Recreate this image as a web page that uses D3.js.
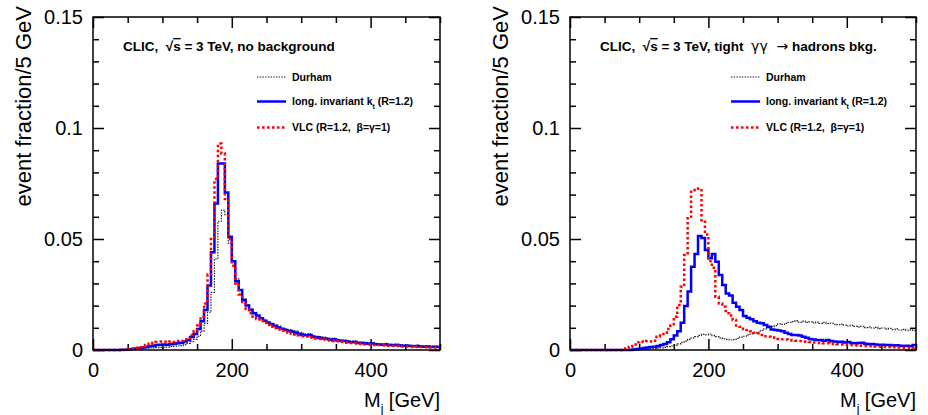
<!DOCTYPE html>
<html>
<head>
<meta charset="utf-8">
<script src="https://cdn.jsdelivr.net/npm/d3@7"></script>
<style>
  body { margin: 0; background: #fff; }
  svg { font-family: "Liberation Sans", Arial, sans-serif; }
  svg text { white-space: pre; }
  .axis text { font-size: 20px; fill: #000; }
  .axis line { stroke: #000; stroke-width: 1.5; }
</style>
</head>
<body>
<svg id="chart" width="928" height="415"></svg>
<script>
// bin lower edges, 5 GeV bins from 0 to 500
const binLow = d3.range(0, 500, 5);

const yMajor = [0, 0.05, 0.1, 0.15];
const xMajor = [0, 200, 400];

// left panel: no background
const leftDurham = [
  0, 0, 0, 0, 0, 0, 0, 0, 0, 0,
  0.0002, 0.0003, 0.0004, 0.0005, 0.0006, 0.0008, 0.0009, 0.001, 0.0011, 0.0012,
  0.0012, 0.0013, 0.0015, 0.0016, 0.0018, 0.002, 0.0024, 0.003, 0.0038, 0.0048,
  0.0062, 0.0085, 0.012, 0.017, 0.026, 0.041, 0.058, 0.063, 0.061, 0.048,
  0.040, 0.032, 0.027, 0.023, 0.0205, 0.0185, 0.017, 0.0155, 0.0145, 0.0135,
  0.0128, 0.012, 0.0113, 0.0108, 0.010, 0.0095, 0.0092, 0.0088, 0.0085, 0.008,
  0.0075, 0.0072, 0.0074, 0.0065, 0.0062, 0.006, 0.0058, 0.0055, 0.0052, 0.0054,
  0.0048, 0.0046, 0.0045, 0.0042, 0.004, 0.0041, 0.0037, 0.0036, 0.0035, 0.0032,
  0.0034, 0.003, 0.0029, 0.0028, 0.003, 0.0026, 0.0025, 0.0027, 0.0024, 0.0022,
  0.0023, 0.0021, 0.002, 0.0022, 0.0019, 0.0018, 0.002, 0.0017, 0.0018, 0.0016
];
const leftKt = [
  0, 0, 0, 0, 0, 0, 0, 0, 0.0001, 0.0001,
  0.0003, 0.0005, 0.0007, 0.0009, 0.0011, 0.0014, 0.0017, 0.0019, 0.0022, 0.0024,
  0.0025, 0.0024, 0.0026, 0.0028, 0.003, 0.0033, 0.0038, 0.0045, 0.0058, 0.0072,
  0.0095, 0.013, 0.018, 0.029, 0.044, 0.066, 0.084, 0.084, 0.071, 0.051,
  0.040, 0.031, 0.027, 0.0225, 0.020, 0.018, 0.0165, 0.0155, 0.0143, 0.0132,
  0.0123, 0.0116, 0.0108, 0.0101, 0.0095, 0.009, 0.0086, 0.0082, 0.0078, 0.0072,
  0.0068, 0.0066, 0.0068, 0.006, 0.0057, 0.0054, 0.0052, 0.005, 0.0046, 0.0048,
  0.0043, 0.0041, 0.004, 0.0037, 0.0035, 0.0036, 0.0032, 0.0031, 0.003, 0.0028,
  0.0029, 0.0026, 0.0025, 0.0024, 0.0025, 0.0022, 0.0021, 0.0022, 0.002, 0.0019,
  0.0019, 0.0018, 0.0017, 0.0018, 0.0016, 0.0015, 0.0016, 0.0014, 0.0015, 0.0014
];
const leftVlc = [
  0, 0, 0, 0, 0, 0, 0, 0, 0, 0,
  0.0004, 0.0007, 0.001, 0.0014, 0.0018, 0.0022, 0.0028, 0.0032, 0.0036, 0.0038,
  0.0037, 0.0035, 0.0038, 0.0036, 0.004, 0.0042, 0.0048, 0.0055, 0.0068, 0.0085,
  0.011, 0.015, 0.021, 0.034, 0.05, 0.077, 0.093, 0.0885, 0.068, 0.05,
  0.038, 0.03, 0.025, 0.021, 0.0185, 0.0165, 0.015, 0.014, 0.013, 0.0122,
  0.0113, 0.0105, 0.0098, 0.0092, 0.0087, 0.0082, 0.0078, 0.0074, 0.007, 0.0066,
  0.0062, 0.006, 0.0056, 0.0055, 0.0052, 0.005, 0.0047, 0.0045, 0.0043, 0.0041,
  0.0039, 0.0037, 0.0036, 0.0033, 0.0032, 0.003, 0.0029, 0.0027, 0.0026, 0.0025,
  0.0024, 0.0023, 0.0022, 0.0021, 0.002, 0.0019, 0.0018, 0.0019, 0.0017, 0.0016,
  0.0016, 0.0015, 0.0014, 0.0015, 0.0013, 0.0012, 0.0013, 0.0012, 0.0011, 0.0011
];

// right panel: tight gamma gamma -> hadrons background
const rightDurham = [
  0, 0, 0, 0, 0, 0, 0, 0, 0, 0,
  0, 0, 0, 0, 0, 0, 0, 0, 0, 0,
  0.0002, 0.0003, 0.0004, 0.0005, 0.0006, 0.0008, 0.001, 0.0012, 0.0015, 0.0018,
  0.0022, 0.0028, 0.0034, 0.004, 0.0048, 0.0055, 0.006, 0.0066, 0.007, 0.0068,
  0.0072, 0.0065, 0.006, 0.0055, 0.005, 0.0048, 0.0045, 0.0047, 0.0052, 0.0058,
  0.0062, 0.0068, 0.0072, 0.0075, 0.008, 0.0088, 0.0095, 0.01, 0.0105, 0.011,
  0.0118, 0.0115, 0.012, 0.0125, 0.0128, 0.0132, 0.0126, 0.013, 0.0124, 0.0127,
  0.0122, 0.0126, 0.012, 0.0124, 0.0119, 0.0121, 0.0116, 0.0114, 0.0117, 0.0112,
  0.0108, 0.0111, 0.0106, 0.0103, 0.0107, 0.0101, 0.0104, 0.0099, 0.0102, 0.0096,
  0.0099, 0.0094, 0.0097, 0.0092, 0.0095, 0.009, 0.0093, 0.0089, 0.0091, 0.0088
];
const rightKt = [
  0, 0, 0, 0, 0, 0, 0, 0, 0, 0,
  0, 0, 0, 0, 0, 0, 0, 0, 0.0002, 0.0004,
  0.0006, 0.0009, 0.0011, 0.0013, 0.0015, 0.0018, 0.0022, 0.0027, 0.0035, 0.0048,
  0.0065, 0.0085, 0.0123, 0.0198, 0.0263, 0.0375, 0.0432, 0.0513, 0.0505, 0.045,
  0.0413, 0.0432, 0.0398, 0.0338, 0.0293, 0.0255, 0.0245, 0.0213, 0.0195, 0.018,
  0.0153, 0.0145, 0.0138, 0.013, 0.0123, 0.012, 0.0113, 0.0105, 0.0092, 0.009,
  0.0088, 0.0085, 0.0078, 0.0072, 0.0068, 0.0068, 0.0065, 0.006, 0.0055, 0.005,
  0.0047, 0.0045, 0.0045, 0.0042, 0.0045, 0.004, 0.0038, 0.0036, 0.0037, 0.0034,
  0.0036, 0.0032, 0.003, 0.0031, 0.0033, 0.0028, 0.0026, 0.0027, 0.0025, 0.0023,
  0.0024, 0.0022, 0.0023, 0.002, 0.0021, 0.0019, 0.0018, 0.0019, 0.0017, 0.0022
];
const rightVlc = [
  0, 0, 0, 0, 0, 0, 0, 0, 0, 0,
  0, 0, 0, 0, 0, 0.0003, 0.0008, 0.0015, 0.0025, 0.0035,
  0.0038, 0.0036, 0.004, 0.0038, 0.0042, 0.006, 0.0072, 0.0078, 0.0095, 0.011,
  0.015, 0.0203, 0.0285, 0.0428, 0.060, 0.072, 0.0727, 0.072, 0.0585, 0.052,
  0.040, 0.037, 0.024, 0.021, 0.0195, 0.0166, 0.0155, 0.0135, 0.011, 0.0105,
  0.0095, 0.009, 0.0085, 0.0078, 0.0075, 0.0068, 0.0062, 0.006, 0.0056, 0.0055,
  0.005, 0.0048, 0.0047, 0.0045, 0.0043, 0.0042, 0.004, 0.0038, 0.0037, 0.0036,
  0.0034, 0.0033, 0.0032, 0.003, 0.003, 0.0028, 0.0027, 0.0026, 0.0025, 0.0024,
  0.0023, 0.0022, 0.0021, 0.002, 0.0019, 0.0018, 0.0018, 0.0017, 0.0016, 0.0015,
  0.0015, 0.0014, 0.0013, 0.0012, 0.0012, 0.0011, 0.001, 0.001, 0.0009, 0.0008
];

const svg = d3.select('#chart');

const plotTop = 17, plotBottom = 350;

const styles = {
  durham: { color: '#222', width: 1.2, dash: '1.5,1.2' },
  kt: { color: '#0000ff', width: 2.5, dash: null },
  vlc: { color: '#ff0000', width: 2.5, dash: '2.5,2.5' }
};

// Function to draw one panel
function drawPanel(x0, x1, series, titleParts, legendX) {
  const x = d3.scaleLinear().domain([0, 500]).range([x0, x1]);
  const y = d3.scaleLinear().domain([0, 0.15]).range([plotBottom, plotTop]);

  const g = svg.append('g');

  // minor ticks on all four sides
  const xMinor = d3.range(0, 501, 50).filter(v => v % 200 !== 0);
  const yMinor = d3.range(0, 16).map(v => v / 100).filter(v => Math.round(v * 100) % 5 !== 0);

  g.append('g').attr('class', 'axis').attr('transform', `translate(0,${plotBottom})`)
    .call(d3.axisBottom(x).tickValues(xMinor).tickSize(-6).tickFormat(''));
  g.append('g').attr('class', 'axis').attr('transform', `translate(0,${plotTop})`)
    .call(d3.axisTop(x).tickValues(xMinor).tickSize(-6).tickFormat(''));
  g.append('g').attr('class', 'axis').attr('transform', `translate(${x0},0)`)
    .call(d3.axisLeft(y).tickValues(yMinor).tickSize(-6).tickFormat(''));
  g.append('g').attr('class', 'axis').attr('transform', `translate(${x1},0)`)
    .call(d3.axisRight(y).tickValues(yMinor).tickSize(-6).tickFormat(''));

  // major ticks and labels
  g.append('g').attr('class', 'axis').attr('transform', `translate(0,${plotBottom})`)
    .call(d3.axisBottom(x).tickValues(xMajor).tickSize(-11).tickPadding(13).tickFormat(d3.format('d')));
  g.append('g').attr('class', 'axis').attr('transform', `translate(0,${plotTop})`)
    .call(d3.axisTop(x).tickValues(xMajor).tickSize(-11).tickFormat(''));
  g.append('g').attr('class', 'axis').attr('transform', `translate(${x0},0)`)
    .call(d3.axisLeft(y).tickValues(yMajor).tickSize(-11).tickPadding(10).tickFormat(d => String(d)));
  g.append('g').attr('class', 'axis').attr('transform', `translate(${x1},0)`)
    .call(d3.axisRight(y).tickValues(yMajor).tickSize(-11).tickFormat(''));

  g.selectAll('.axis .domain').remove();
  g.selectAll('.axis').attr('font-family', null).attr('font-size', null);

  // histograms
  const line = d3.line()
    .x(d => x(d[0]))
    .y(d => y(d[1]))
    .curve(d3.curveStepAfter);

  series.forEach(s => {
    const st = styles[s.key];
    const pts = binLow.map((b, i) => [b, s.values[i]]);
    pts.push([500, s.values[s.values.length - 1]]);
    g.append('path')
      .datum(pts)
      .attr('d', line)
      .attr('fill', 'none')
      .attr('stroke', st.color)
      .attr('stroke-width', st.width)
      .attr('stroke-dasharray', st.dash);
  });

  // frame
  g.append('rect')
    .attr('x', x0).attr('y', plotTop)
    .attr('width', x1 - x0).attr('height', plotBottom - plotTop)
    .attr('fill', 'none').attr('stroke', '#000').attr('stroke-width', 1.5);

  // axis titles
  const xt = g.append('text')
    .attr('x', x1).attr('y', 407)
    .attr('text-anchor', 'end')
    .attr('font-size', 20);
  xt.append('tspan').text('M');
  xt.append('tspan').attr('font-size', 12).attr('dy', 6).text('j');
  xt.append('tspan').attr('dy', -6).text(' [GeV]');

  g.append('text')
    .attr('transform', `translate(${x0 - 62},6) rotate(-90)`)
    .attr('text-anchor', 'end')
    .attr('font-size', 22)
    .text('event fraction/5 GeV');

  // title with sqrt(s)
  const t = g.append('text')
    .attr('x', x0 + 30).attr('y', 51)
    .attr('font-size', 13.5)
    .attr('font-weight', 'bold');
  t.append('tspan').text('CLIC,  \u221A');
  t.append('tspan').attr('text-decoration', 'overline').text('s');
  titleParts.forEach(p => {
    const ts = t.append('tspan').text(p.text);
    if (p.symbol) {
      ts.attr('font-weight', 'normal')
        .attr('font-family', '"DejaVu Sans", sans-serif')
        .attr('font-size', 14);
    }
  });

  // legend
  const rows = [
    { key: 'durham', y: 77, label: ['Durham'] },
    { key: 'kt', y: 101.5, label: ['long. invariant k', 't', ' (R=1.2)'] },
    { key: 'vlc', y: 127.5, label: ['VLC (R=1.2,  \u03B2=\u03B3=1)'] }
  ];
  rows.forEach(r => {
    const st = styles[r.key];
    g.append('line')
      .attr('x1', legendX).attr('x2', legendX + 29)
      .attr('y1', r.y).attr('y2', r.y)
      .attr('stroke', st.color)
      .attr('stroke-width', st.width)
      .attr('stroke-dasharray', st.dash);
    const lt = g.append('text')
      .attr('x', legendX + 35).attr('y', r.y + 3.8)
      .attr('font-size', 10.5)
      .attr('font-weight', 'bold');
    lt.append('tspan').text(r.label[0]);
    if (r.label.length > 1) {
      lt.append('tspan').attr('font-size', 7).attr('dy', 4).text(r.label[1]);
      lt.append('tspan').attr('dy', -4).text(r.label[2]);
    }
  });
}

drawPanel(93, 440, [
  { key: 'durham', values: leftDurham },
  { key: 'kt', values: leftKt },
  { key: 'vlc', values: leftVlc }
], [
  { text: ' = 3 TeV, no background' }
], 257);

drawPanel(570, 916, [
  { key: 'durham', values: rightDurham },
  { key: 'kt', values: rightKt },
  { key: 'vlc', values: rightVlc }
], [
  { text: ' = 3 TeV, tight  ' },
  { text: '\u03B3\u03B3  \u2192', symbol: true },
  { text: ' hadrons bkg.' }
], 731);
</script>
</body>
</html>
